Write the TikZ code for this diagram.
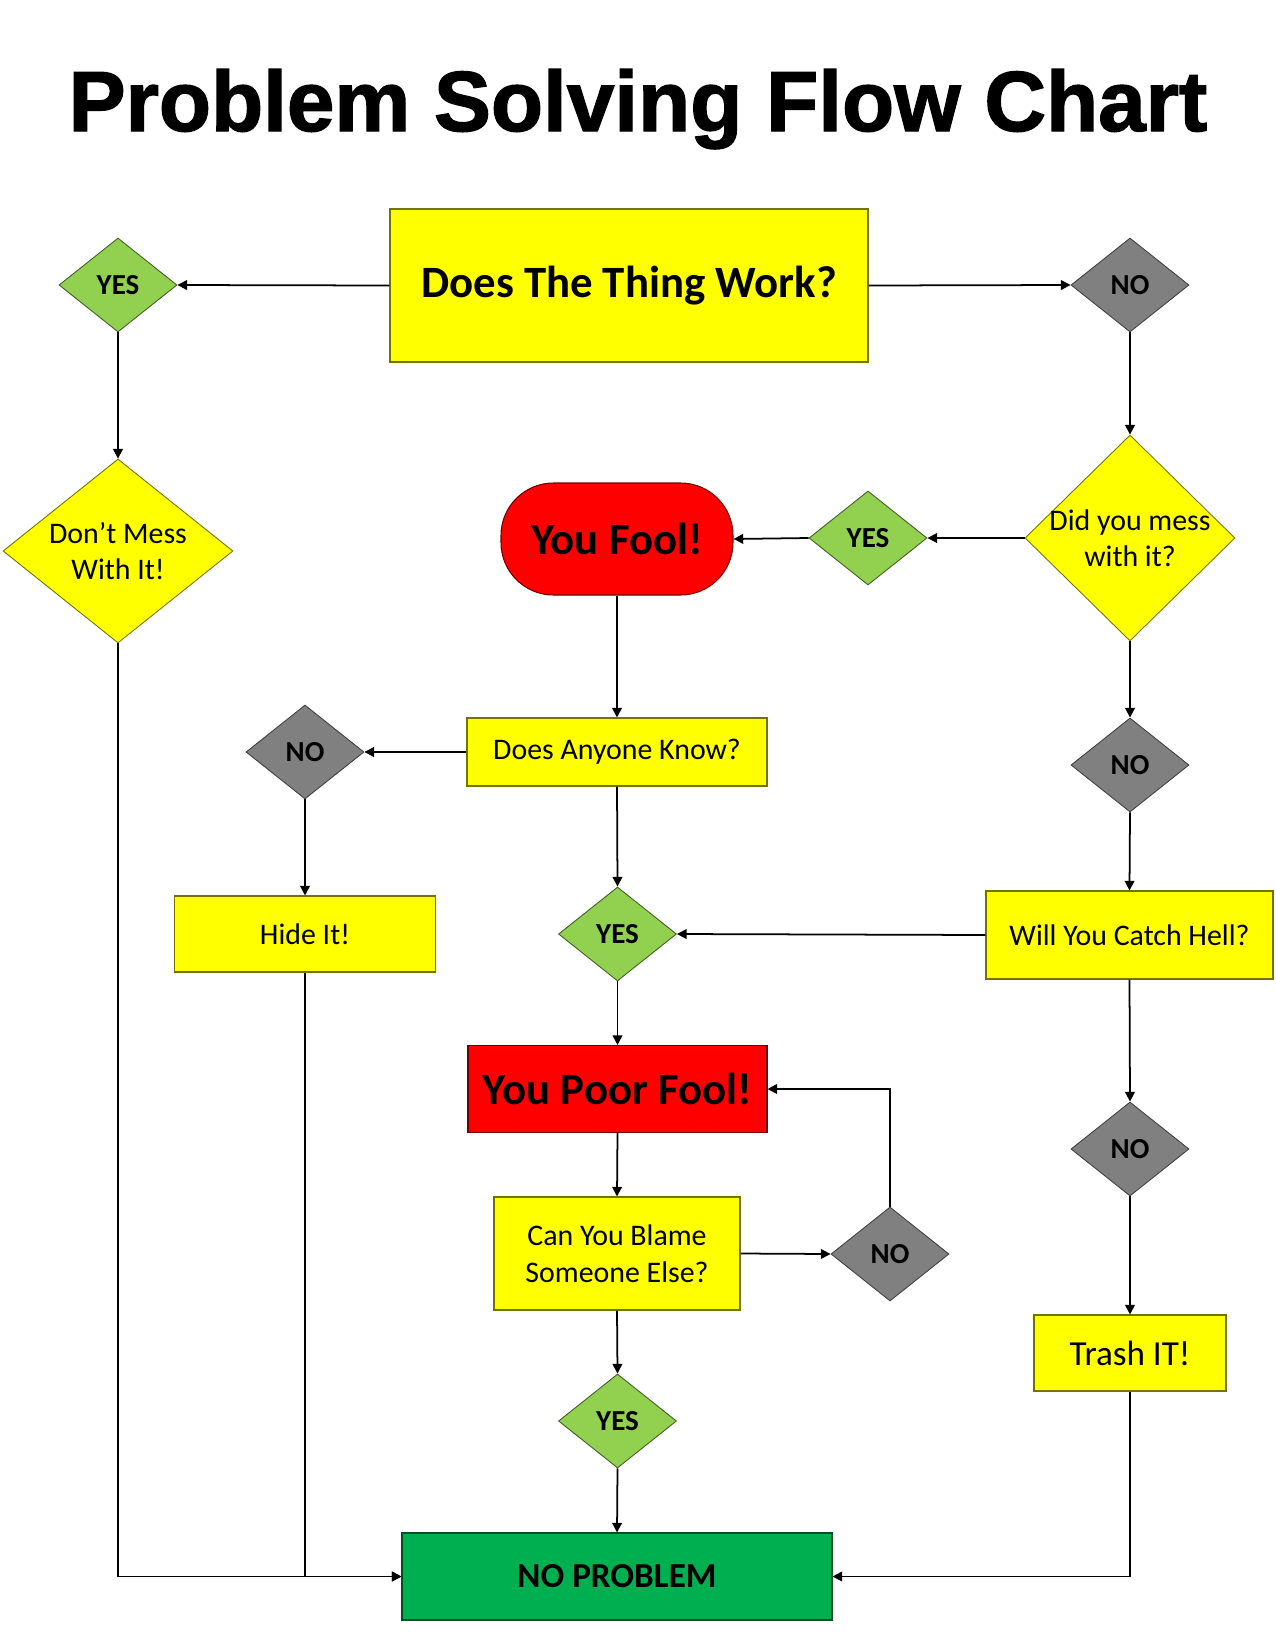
\documentclass[tikz,border=0pt]{standalone}
\usepackage{fontspec}
\setmainfont{Carlito}
\newfontfamily\titlefont{Liberation Sans}[BoldFeatures={FakeBold=1.6}]
\usetikzlibrary{shapes.geometric,arrows.meta}
\definecolor{ybox}{HTML}{FFFF00}
\definecolor{gdia}{HTML}{92D050}
\definecolor{ndia}{HTML}{808080}
\definecolor{rbox}{HTML}{FF0000}
\definecolor{okbox}{HTML}{00B050}
\def\u{0.02cm}
\tikzset{
  yb/.style={rectangle, fill=ybox, draw=ybox!45!black, line width=0.6pt, inner sep=0pt, align=center,
     font=\fontsize{17pt}{21pt}\selectfont},
  dia/.style={diamond, inner sep=0pt, line width=0.5pt, minimum width=118*\u, minimum height=94*\u,
     font=\fontsize{16.5pt}{20pt}\selectfont\bfseries},
  yesd/.style={dia, fill=gdia, draw=gdia!45!black},
  nod/.style={dia, fill=ndia, draw=ndia!50!black},
  bigd/.style={diamond, inner sep=0pt, fill=ybox, draw=ybox!45!black, line width=0.5pt},
  dtext/.style={align=center, font=\fontsize{17pt}{20.5pt}\selectfont},
  conn/.style={line width=1pt, -{Triangle[length=5.5pt,width=5.5pt]}},
}
\begin{document}
\begin{tikzpicture}[x=0.02cm,y=-0.02cm]
\useasboundingbox (0,0) rectangle (1275,1650);
\fill[white] (0,0) rectangle (1275,1650);

\node[anchor=base, font=\titlefont\fontsize{48.6pt}{52pt}\selectfont\bfseries] (title) at (638,131) {Problem Solving Flow Chart};

\node[yb, minimum width=478*\u, minimum height=153*\u, font=\fontsize{25.5pt}{30pt}\selectfont\bfseries] (work) at (629,285.5) {Does The Thing Work?};
\node[yesd] (yes1) at (118,285) {YES};
\node[nod] (no1) at (1130,285) {NO};
\node[bigd, minimum width=230*\u, minimum height=184*\u, label={[dtext]center:Don’t Mess\\With It!}] (dont) at (118,551) {};
\node[bigd, minimum width=210*\u, minimum height=206*\u, label={[dtext]center:Did you mess\\with it?}] (mess) at (1130,538) {};
\node[yesd] (yes2) at (868,538) {YES};
\node[rectangle, rounded corners=1.05cm, fill=rbox, draw=rbox!45!black, line width=0.6pt, minimum width=232*\u, minimum height=112*\u, inner sep=0pt, font=\fontsize{25.5pt}{30pt}\selectfont\bfseries] (fool) at (617,539) {You Fool!};
\node[yb, minimum width=300*\u, minimum height=68*\u] (anyone) at (617,752) {Does Anyone Know?};
\node[nod] (no2) at (305,752) {NO};
\node[nod] (no3) at (1130,765) {NO};
\node[yb, minimum width=261*\u, minimum height=76*\u] (hide) at (305,934) {Hide It!};
\node[yesd] (yes3) at (617.5,934) {YES};
\node[yb, minimum width=287*\u, minimum height=88*\u] (hell) at (1129.5,935) {Will You Catch Hell?};
\node[rectangle, fill=rbox, draw=rbox!45!black, line width=0.6pt, minimum width=299*\u, minimum height=87*\u, inner sep=0pt, font=\fontsize{25.5pt}{30pt}\selectfont\bfseries] (poor) at (617.5,1089) {You Poor Fool!};
\node[nod] (no4) at (1130,1149) {NO};
\node[yb, minimum width=246*\u, minimum height=113*\u] (blame) at (617,1253.5) {Can You Blame\\Someone Else?};
\node[nod] (no5) at (890,1254) {NO};
\node[yb, minimum width=192*\u, minimum height=76*\u, font=\fontsize{20pt}{24pt}\selectfont] (trash) at (1130,1353) {Trash IT!};
\node[yesd] (yes4) at (617.5,1421) {YES};
\node[rectangle, fill=okbox, draw=okbox!45!black, line width=0.6pt, minimum width=430*\u, minimum height=87*\u, inner sep=0pt, font=\fontsize{20pt}{24pt}\selectfont\bfseries] (np) at (617,1576.5) {NO PROBLEM};

\draw[conn] (work.west) -- (yes1.east);
\draw[conn] (work.east) -- (no1.west);
\draw[conn] (yes1.south) -- (dont.north);
\draw[conn] (no1.south) -- (mess.north);
\draw[conn] (mess.west) -- (yes2.east);
\draw[conn] (yes2.west) -- (fool.east);
\draw[conn] (fool.south) -- (anyone.north);
\draw[conn] (anyone.west) -- (no2.east);
\draw[conn] (no2.south) -- (hide.north);
\draw[conn] (anyone.south) -- (yes3.north);
\draw[conn] (mess.south) -- (no3.north);
\draw[conn] (no3.south) -- (hell.north);
\draw[conn] (hell.west) -- (yes3.east);
\draw[conn] (yes3.south) -- (poor.north);
\draw[conn] (hell.south) -- (no4.north);
\draw[conn] (no4.south) -- (trash.north);
\draw[conn] (poor.south) -- (blame.north);
\draw[conn] (blame.east) -- (no5.west);
\draw[conn] (no5.north) |- (poor.east);
\draw[conn] (blame.south) -- (yes4.north);
\draw[conn] (yes4.south) -- (np.north);
\draw[conn] (dont.south) |- (np.west);
\draw[conn] (hide.south) |- (np.west);
\draw[conn] (trash.south) |- (np.east);
\end{tikzpicture}
\end{document}
